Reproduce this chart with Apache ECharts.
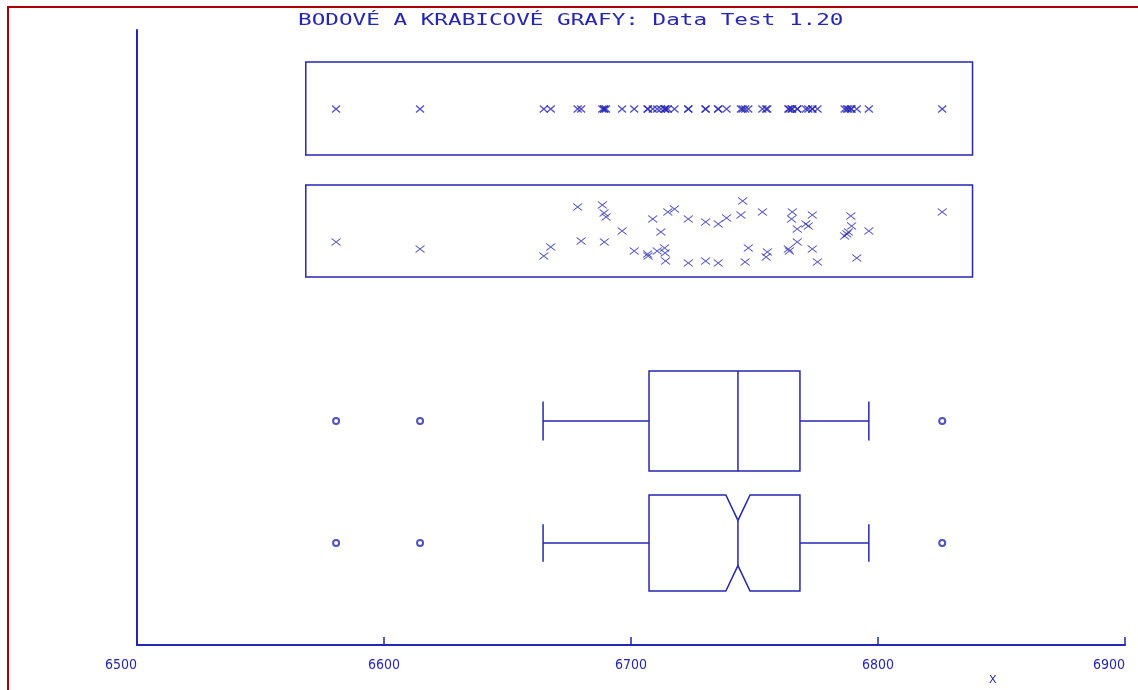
<!DOCTYPE html>
<html>
<head>
<meta charset="utf-8">
<script src="https://cdn.jsdelivr.net/npm/echarts@6/dist/echarts.min.js"></script>
<style>
html,body{margin:0;padding:0;background:#fff;overflow:hidden;}
#frame{position:absolute;left:7px;top:6px;width:1300px;height:900px;border-left:2px solid #b00000;border-top:2px solid #b00000;}
#main{position:absolute;left:0;top:0;width:1138px;height:690px;}
</style>
</head>
<body>
<div id="frame"></div>
<div id="main"></div>
<script>
// hodnoty (osa X)
var xValues = [6580.6, 6614.6, 6664.7, 6667.5, 6678.4, 6679.8, 6688.4, 6689.1, 6689.9, 6689.2,
    6696.4, 6701.3, 6706.7, 6706.9, 6708.8, 6710.6, 6712.1, 6713.6, 6713.8, 6714.0,
    6714.9, 6717.6, 6723.2, 6723.2, 6730.2, 6730.2, 6735.3, 6735.3, 6738.7, 6744.5,
    6745.2, 6746.2, 6747.5, 6753.2, 6754.7, 6755.2, 6763.7, 6764.1, 6765.3, 6765.0,
    6767.3, 6767.3, 6770.8, 6771.8, 6773.4, 6773.4, 6775.5, 6789.0, 6789.3, 6788.0,
    6786.5, 6787.4, 6796.3, 6791.4, 6826.0];
// rozptyl ve svislém směru (jitter) pro druhý pruh
var jitterY = [403, 396, 389, 398, 438, 404, 440, 432, 428, 403,
    414, 394, 391, 389, 426, 394, 413, 397, 392, 384,
    433, 436, 426, 382, 423, 384, 421, 382, 427, 430,
    444, 383, 397, 433, 388, 393, 396, 394, 433, 426,
    416, 403, 421, 419, 430, 396, 383, 429, 419, 413,
    409, 411, 414, 387, 433];
// krabicový graf: [dolní vous, Q1, medián, Q3, horní vous]
var boxStats = [6664.4, 6707.3, 6743.3, 6768.4, 6796.3];
var outliers = [6580.6, 6614.6, 6826.0];
var notchHalf = 4.9;
var xTicks = [6500, 6600, 6700, 6800, 6900];

// svislé polohy řádků
var stripY = 536;
var stripFrames = [[490, 583], [368, 460]];
var boxRows = [{y: 224, half: 50, notch: false}, {y: 102, half: 48, notch: true}];

var blue = '#2626b4';

var myChart = echarts.init(document.getElementById('main'));

var xmin = Math.min.apply(null, xValues), xmax = Math.max.apply(null, xValues);
var pad = (xmax - xmin) * 0.05;

var stripData = xValues.map(function (v) { return [v, stripY]; });
var jitterData = xValues.map(function (v, i) { return [v, jitterY[i]]; });
var outlierData = [];
boxRows.forEach(function (r) {
    outliers.forEach(function (v) { outlierData.push([v, r.y]); });
});

var crossSymbol = 'path://M0,0L10,10M10,0L0,10';

option = {
    animation: false,
    grid: {left: 137, right: 13, top: 30, bottom: 45, outerBoundsMode: 'none', containLabel: false},
    xAxis: {
        type: 'value',
        min: xTicks[0],
        max: xTicks[xTicks.length - 1],
        interval: 100,
        axisLine: {lineStyle: {color: blue, width: 2}},
        axisTick: {inside: true, length: 8, lineStyle: {color: blue, width: 1.5}},
        axisLabel: {
            color: blue,
            fontFamily: 'Liberation Sans Narrow, DejaVu Sans Condensed, sans-serif',
            fontSize: 14,
            margin: 13,
            alignMinLabel: 'right',
            alignMaxLabel: 'right',
            formatter: function (v) { return String(v); }
        },
        splitLine: {show: false}
    },
    yAxis: {
        type: 'value',
        min: 0,
        max: 615,
        axisLine: {show: true, lineStyle: {color: blue, width: 2}},
        axisTick: {show: false},
        axisLabel: {show: false},
        splitLine: {show: false}
    },
    graphic: [
        {
            type: 'text',
            left: 298,
            top: 14,
            scaleX: 1.51,
            style: {
                text: 'BODOVÉ A KRABICOVÉ GRAFY: Data Test 1.20',
                fill: blue,
                font: '15px "DejaVu Sans Mono", monospace'
            }
        },
        {
            type: 'text',
            left: 989,
            top: 675,
            style: {text: 'X', fill: blue, font: '11px "DejaVu Sans", sans-serif'}
        }
    ],
    series: [
        {
            // rámečky kolem bodových grafů
            type: 'custom',
            data: stripFrames,
            silent: true,
            renderItem: function (params, api) {
                var p1 = api.coord([xmin - pad, api.value(1)]);
                var p2 = api.coord([xmax + pad, api.value(0)]);
                return {
                    type: 'rect',
                    shape: {x: p1[0], y: p1[1], width: p2[0] - p1[0], height: p2[1] - p1[1]},
                    style: {fill: 'none', stroke: blue, lineWidth: 1.5}
                };
            }
        },
        {
            type: 'scatter',
            data: stripData,
            symbol: crossSymbol,
            symbolSize: [8, 7],
            itemStyle: {color: 'none', borderColor: blue, borderWidth: 1.2}
        },
        {
            type: 'scatter',
            data: jitterData,
            symbol: crossSymbol,
            symbolSize: [9, 7],
            itemStyle: {color: 'none', borderColor: blue, borderWidth: 1.1}
        },
        {
            // krabicové grafy
            type: 'custom',
            data: boxRows.map(function (r) { return [r.y, r.half, r.notch ? 1 : 0]; }),
            silent: true,
            renderItem: function (params, api) {
                var yc = api.value(0), half = api.value(1), notch = api.value(2);
                var capHalf = half * 0.39;
                var c = function (x, y) { return api.coord([x, y]); };
                var lo = boxStats[0], q1 = boxStats[1], med = boxStats[2], q3 = boxStats[3], hi = boxStats[4];
                var top = yc + half, bot = yc - half;
                var st = {fill: 'none', stroke: blue, lineWidth: 1.5};
                var children = [];
                var line = function (a, b) {
                    children.push({type: 'line', shape: {x1: a[0], y1: a[1], x2: b[0], y2: b[1]}, style: st});
                };
                if (notch) {
                    var d = half * 0.53;
                    var pts = [
                        c(q1, top), c(med - notchHalf, top), c(med, top - d), c(med + notchHalf, top), c(q3, top),
                        c(q3, bot), c(med + notchHalf, bot), c(med, bot + d), c(med - notchHalf, bot), c(q1, bot)
                    ];
                    children.push({type: 'polygon', shape: {points: pts}, style: st});
                    line(c(med, top - d), c(med, bot + d));
                } else {
                    var a = c(q1, top), b = c(q3, bot);
                    children.push({type: 'rect', shape: {x: a[0], y: a[1], width: b[0] - a[0], height: b[1] - a[1]}, style: st});
                    line(c(med, top), c(med, bot));
                }
                line(c(lo, yc), c(q1, yc));
                line(c(q3, yc), c(hi, yc));
                line(c(lo, yc + capHalf), c(lo, yc - capHalf));
                line(c(hi, yc + capHalf), c(hi, yc - capHalf));
                return {type: 'group', children: children};
            }
        },
        {
            type: 'scatter',
            data: outlierData,
            symbol: 'emptyCircle',
            symbolSize: 6,
            itemStyle: {color: blue, borderColor: blue, borderWidth: 1}
        }
    ]
};

myChart.setOption(option);
</script>
</body>
</html>
